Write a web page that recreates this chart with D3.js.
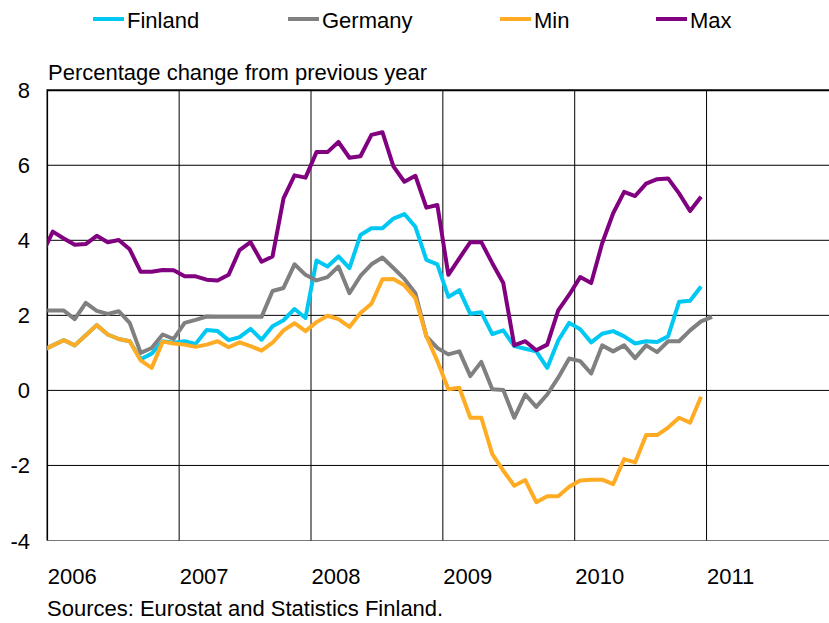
<!DOCTYPE html>
<html>
<head>
<meta charset="utf-8">
<script src="https://cdn.jsdelivr.net/npm/d3@7"></script>
<style>
  body { margin: 0; background: #fff; }
  svg { display: block; }
  text { font-family: "Liberation Sans", Arial, sans-serif; font-size: 22px; fill: #000; }
</style>
</head>
<body>
<svg id="chart" width="829" height="623"></svg>
<script>
// Monthly observations, Dec 2005 .. Jan 2011
const months = d3.timeMonth.range(new Date(2005, 11, 1), new Date(2011, 1, 1));

const finland = [1.05,
  1.20, 1.34, 1.20, 1.47, 1.74, 1.49, 1.37, 1.31, 0.83, 0.98, 1.31, 1.27,
  1.31, 1.24, 1.61, 1.58, 1.34, 1.42, 1.64, 1.35, 1.71, 1.87, 2.17, 1.93,
  3.46, 3.30, 3.57, 3.26, 4.14, 4.32, 4.32, 4.58, 4.70, 4.36, 3.48, 3.36,
  2.49, 2.67, 2.04, 2.08, 1.50, 1.60, 1.18, 1.11, 1.04, 0.60, 1.33, 1.80,
  1.63, 1.28, 1.51, 1.58, 1.44, 1.25, 1.31, 1.29, 1.44, 2.36, 2.39, 2.77,
  null];

const germany = [2.13,
  2.13, 2.13, 1.90, 2.33, 2.12, 2.04, 2.11, 1.80, 1.00, 1.13, 1.49, 1.37,
  1.80, 1.88, 1.97, 1.96, 1.96, 1.96, 1.96, 1.96, 2.65, 2.73, 3.36, 3.08,
  2.93, 3.02, 3.30, 2.59, 3.05, 3.36, 3.54, 3.26, 2.97, 2.59, 1.44, 1.13,
  0.96, 1.04, 0.38, 0.76, 0.03, 0.01, -0.73, -0.11, -0.44, -0.11, 0.34, 0.85,
  0.78, 0.45, 1.20, 1.04, 1.20, 0.86, 1.20, 1.02, 1.31, 1.31, 1.60, 1.84,
  1.96];

const minValues = [1.05,
  1.20, 1.34, 1.20, 1.47, 1.74, 1.49, 1.37, 1.31, 0.80, 0.60, 1.30, 1.25,
  1.22, 1.16, 1.22, 1.31, 1.15, 1.28, 1.18, 1.06, 1.27, 1.60, 1.79, 1.58,
  1.82, 1.99, 1.90, 1.69, 2.06, 2.31, 2.96, 2.97, 2.80, 2.46, 1.45, 0.78,
  0.03, 0.07, -0.73, -0.73, -1.70, -2.14, -2.54, -2.39, -2.98, -2.82, -2.82, -2.57,
  -2.40, -2.38, -2.38, -2.50, -1.83, -1.92, -1.19, -1.19, -0.99, -0.73, -0.86, -0.17,
  null];

const maxValues = [3.61,
  4.23, 4.05, 3.88, 3.90, 4.12, 3.95, 4.01, 3.76, 3.16, 3.16, 3.21, 3.20,
  3.04, 3.04, 2.95, 2.93, 3.08, 3.74, 3.95, 3.43, 3.57, 5.12, 5.73, 5.67,
  6.35, 6.35, 6.62, 6.20, 6.24, 6.81, 6.88, 5.97, 5.56, 5.72, 4.87, 4.94,
  3.08, 3.52, 3.95, 3.95, 3.39, 2.86, 1.20, 1.31, 1.07, 1.22, 2.13, 2.55,
  3.02, 2.86, 3.92, 4.72, 5.29, 5.18, 5.51, 5.63, 5.65, 5.25, 4.78, 5.16,
  null];

const seriesNames = ["Finland", "Germany", "Min", "Max"];
const seriesColors = ["#00c8f2", "#808080", "#ffac24", "#800080"];
const seriesValues = [finland, germany, minValues, maxValues];

const yearTicks = [2006, 2007, 2008, 2009, 2010, 2011];
const valueTicks = [-4, -2, 0, 2, 4, 6, 8];

const yAxisTitle = "Percentage change from previous year";
const sourceNote = "Sources: Eurostat and Statistics Finland.";

// ---- layout ----
const svg = d3.select("#chart");
const plotLeft = 47.3, plotTop = 90.2, plotBottom = 540.5;

const x = d3.scaleLinear().domain([2006, 2012]).range([plotLeft, plotLeft + 6 * 131.85]);
const y = d3.scaleLinear().domain([-4, 8]).range([plotBottom, plotTop]);

// position of a month's point: middle of the month
const monthPos = d => x(d.getFullYear() + (d.getMonth() + 0.5) / 12);

svg.append("defs").append("clipPath").attr("id", "plot")
  .append("rect").attr("x", plotLeft).attr("y", plotTop - 10)
  .attr("width", 900).attr("height", plotBottom - plotTop + 20);

// gridlines
const grid = svg.append("g");
grid.selectAll("line.h").data(valueTicks).join("line")
  .attr("x1", plotLeft).attr("x2", 840)
  .attr("y1", d => y(d)).attr("y2", d => y(d))
  .attr("stroke", d => d === -4 ? "#777" : "#000")
  .attr("stroke-width", d => d === 8 ? 2 : 1);
grid.selectAll("line.v").data(yearTicks.slice(1)).join("line")
  .attr("x1", d => x(d)).attr("x2", d => x(d))
  .attr("y1", plotTop).attr("y2", plotBottom)
  .attr("stroke", "#000").attr("stroke-width", 1);
grid.append("line")
  .attr("x1", plotLeft).attr("x2", plotLeft).attr("y1", plotTop - 1).attr("y2", plotBottom)
  .attr("stroke", "#000").attr("stroke-width", 1.6);

// series lines
const line = d3.line()
  .defined(d => d.v != null)
  .x(d => monthPos(d.m))
  .y(d => y(d.v));

const lines = svg.append("g").attr("clip-path", "url(#plot)");
seriesValues.forEach((vals, i) => {
  const pts = months.map((m, k) => ({ m, v: vals[k] }));
  lines.append("path")
    .datum(pts)
    .attr("fill", "none")
    .attr("stroke", seriesColors[i])
    .attr("stroke-width", 4)
    .attr("stroke-linejoin", "round")
    .attr("d", line);
});

// value labels
svg.append("g").selectAll("text").data(valueTicks).join("text")
  .attr("x", 30).attr("y", d => y(d) + 8)
  .attr("text-anchor", "end")
  .text(d => d);

// year labels
svg.append("g").selectAll("text").data(yearTicks).join("text")
  .attr("x", d => x(d) + 0.5).attr("y", 584)
  .text(d => d);

// axis title and source
svg.append("text").attr("x", 48).attr("y", 80).text(yAxisTitle);
svg.append("text").attr("x", 47).attr("y", 616).text(sourceNote);

// legend
const legendX = [93, 288, 500, 656];
const legend = svg.append("g");
seriesNames.forEach((name, i) => {
  legend.append("line")
    .attr("x1", legendX[i]).attr("x2", legendX[i] + 31)
    .attr("y1", 19).attr("y2", 19)
    .attr("stroke", seriesColors[i]).attr("stroke-width", 4);
  legend.append("text")
    .attr("x", legendX[i] + 34).attr("y", 28)
    .text(name);
});
</script>
</body>
</html>
